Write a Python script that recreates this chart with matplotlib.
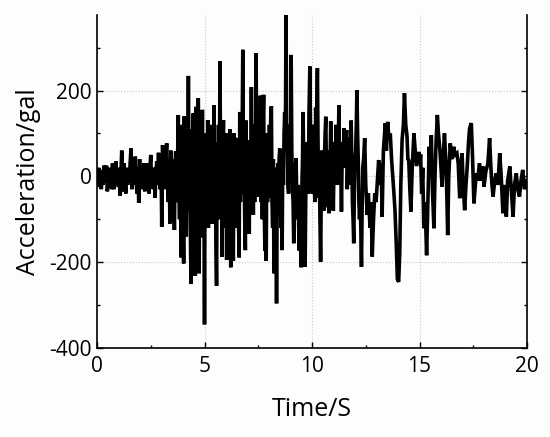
import numpy as np
import matplotlib.pyplot as plt
from matplotlib.ticker import MultipleLocator

# %% record (time in s, acceleration in gal)
# quiet start, 0 - 3.6 s
t_early = [0.0, 0.04, 0.08, 0.12, 0.16, 0.2, 0.24, 0.28, 0.32, 0.36, 0.4, 0.44, 0.48,
           0.52, 0.56, 0.6, 0.64, 0.68, 0.72, 0.76, 0.8, 0.84, 0.88, 0.92, 0.96, 1.0,
           1.04, 1.08, 1.12, 1.15, 1.18, 1.22, 1.26, 1.3, 1.34, 1.38, 1.42, 1.46, 1.5,
           1.54, 1.58, 1.62, 1.66, 1.7, 1.74, 1.78, 1.82, 1.86, 1.9, 1.94, 1.98, 2.02,
           2.06, 2.1, 2.14, 2.18, 2.22, 2.26, 2.3, 2.34, 2.38, 2.42, 2.46, 2.5, 2.54,
           2.58, 2.62, 2.66, 2.7, 2.74, 2.78, 2.82, 2.86, 2.9, 2.94, 2.98, 3.01, 3.05,
           3.09, 3.12, 3.16, 3.2, 3.24, 3.28, 3.32, 3.36, 3.39, 3.43, 3.47, 3.51, 3.55]
a_early = [10, -15, 20, -25, 15, -30, 10, -20, 25, -15, 5, 25, -35,
           -10, 20, -25, 5, -30, 30, -10, -30, 20, 35, -20, 10, -25,
           20, -45, 20, 60, -10, -35, 30, -15, -40, 20, -20, 15, -15,
           30, 65, -30, 10, 25, -20, 46, -10, -40, 20, -62, 40, -10,
           -30, 15, -20, 30, -35, 10, 30, -10, 20, -40, 20, 50, -20,
           10, -30, 20, -50, 10, 35, -20, 55, -10, -30, 30, -118, 73,
           -20, 30, -30, 40, 77, -20, -60, 30, -110, 60, -20, 40, -30]

# strong shaking, 3.6 - 12.45 s
t_mid = [3.6, 3.63, 3.66, 3.69, 3.72, 3.75, 3.78, 3.81, 3.84, 3.87, 3.9, 3.92, 3.95,
         3.97, 4.0, 4.03, 4.06, 4.09, 4.12, 4.15, 4.18, 4.21, 4.25, 4.28, 4.31, 4.34,
         4.37, 4.4, 4.43, 4.46, 4.48, 4.51, 4.54, 4.57, 4.6, 4.63, 4.66, 4.69, 4.71,
         4.75, 4.78, 4.81, 4.84, 4.87, 4.9, 4.93, 4.96, 5.0, 5.03, 5.06, 5.09, 5.12,
         5.15, 5.18, 5.21, 5.24, 5.27, 5.3, 5.33, 5.36, 5.39, 5.42, 5.44, 5.47, 5.5,
         5.53, 5.56, 5.59, 5.62, 5.65, 5.68, 5.72, 5.75, 5.78, 5.82, 5.85, 5.88, 5.91,
         5.94, 5.97, 6.0, 6.03, 6.06, 6.09, 6.12, 6.15, 6.18, 6.22, 6.25, 6.28, 6.31,
         6.34, 6.37, 6.4, 6.43, 6.46, 6.49, 6.52, 6.55, 6.58, 6.61, 6.64, 6.67, 6.7,
         6.73, 6.78, 6.81, 6.84, 6.87, 6.9, 6.93, 6.96, 6.99, 7.02, 7.05, 7.08, 7.11,
         7.15, 7.18, 7.21, 7.24, 7.27, 7.3, 7.33, 7.37, 7.4, 7.43, 7.46, 7.49, 7.52,
         7.55, 7.58, 7.6, 7.63, 7.66, 7.69, 7.72, 7.75, 7.78, 7.81, 7.84, 7.87, 7.9,
         7.93, 7.96, 7.99, 8.02, 8.05, 8.08, 8.11, 8.14, 8.17, 8.2, 8.23, 8.26, 8.29,
         8.32, 8.35, 8.38, 8.41, 8.44, 8.47, 8.5, 8.53, 8.56, 8.59, 8.61, 8.64, 8.67,
         8.7, 8.73, 8.76, 8.79, 8.82, 8.85, 8.88, 8.91, 8.94, 8.97, 9.0, 9.03, 9.06,
         9.09, 9.12, 9.15, 9.18, 9.21, 9.24, 9.26, 9.29, 9.32, 9.35, 9.38, 9.41, 9.44,
         9.47, 9.5, 9.53, 9.56, 9.58, 9.61, 9.64, 9.68, 9.71, 9.74, 9.77, 9.8, 9.83,
         9.86, 9.9, 9.93, 9.96, 9.99, 10.02, 10.05, 10.08, 10.11, 10.14, 10.17, 10.2,
         10.25, 10.28, 10.31, 10.34, 10.37, 10.4, 10.43, 10.46, 10.49, 10.52, 10.55,
         10.58, 10.61, 10.64, 10.67, 10.7, 10.73, 10.76, 10.79, 10.82, 10.85, 10.87,
         10.9, 10.93, 10.96, 10.99, 11.02, 11.05, 11.08, 11.11, 11.14, 11.17, 11.2,
         11.22, 11.25, 11.28, 11.31, 11.34, 11.37, 11.4, 11.43, 11.46, 11.49, 11.52,
         11.55, 11.58, 11.61, 11.64, 11.67, 11.7, 11.73, 11.76, 11.79, 11.82, 11.85,
         11.88, 11.91, 11.94, 11.97, 12.0, 12.03, 12.06, 12.09, 12.12, 12.15, 12.18,
         12.21, 12.24, 12.27, 12.3, 12.33, 12.36, 12.4, 12.45]
a_mid = [-125, 20, 58, -60, -40, 60, 143, -30, -100, 40, -60, -189, 30,
         120, -60, -203, 140, -50, 90, -140, 60, -80, 234, -40, 110, -120,
         -251, 60, -90, 120, 147, -100, 50, -232, 162, -80, 100, -120, 182,
         -226, 60, -100, 120, -142, 155, -60, 90, -345, 60, -120, 100, -80,
         131, -120, 60, -100, 100, -79, 120, -110, 80, -60, 166, -80, 60,
         -150, -255, 80, -60, 120, -100, 268, -40, 80, -188, 60, 131, -87,
         80, -120, 100, -195, 60, -134, 90, -60, 110, -212, 40, 80, -120,
         -197, 100, -60, 90, -80, 88, -120, 60, -100, -189, 150, -60, 100,
         -40, 295, -40, 80, -100, -172, 130, -60, 80, -100, 60, -134, 84,
         -40, 208, -60, 100, -90, 120, -60, 80, 287, -20, -48, 80, -40,
         120, 20, 188, -60, 80, -100, 120, 190, -80, -173, 40, -197, 100,
         -60, 60, -50, 120, -40, 140, 163, -60, -120, 40, -226, 20, -100,
         -60, -296, -50, 30, -60, 40, 65, -60, -120, -40, -172, 50, -20,
         100, 150, 60, 380, 120, 100, -20, -40, 60, 120, 50, 283, 60,
         -30, -60, -156, -20, 30, -40, 42, -60, -100, -20, -120, -173, -60,
         -80, -212, -20, 40, 150, 60, -60, -211, -40, 80, -40, 60, -40,
         150, 256, 100, 60, -20, -40, 60, 120, -30, -60, 160, 60,
         252, 80, -50, 20, -100, -199, -40, 60, -20, -40, -80,
         40, 100, 139, 20, 60, -72, 20, -86, 40, 60, 128,
         20, -40, 40, -80, 20, 80, -20, 120, -20, 40, 100,
         60, 166, 40, -20, 20, -82, 40, 80, 20, 112, 40,
         20, 80, 108, -30, 40, 90, 20, -20, 60, 130, 40,
         -60, -100, -156, -40, 40, 60, 120, 201, 100, 40, -60,
         -100, -60, -120, -211, -80, 20, 40, 89]

# decay, 12.5 - 20 s
t_late = [12.5, 12.57, 12.62, 12.7, 12.75, 12.8, 12.86, 12.92, 12.98, 13.04, 13.1,
          13.16, 13.22, 13.26, 13.32, 13.41, 13.46, 13.52, 13.57, 13.64, 13.7, 13.8,
          13.86, 13.92, 13.97, 14.03, 14.08, 14.13, 14.19, 14.25, 14.3, 14.36, 14.42,
          14.46, 14.5, 14.55, 14.6, 14.66, 14.74, 14.8, 14.86, 14.92, 14.97, 15.02,
          15.05, 15.1, 15.15, 15.2, 15.26, 15.33, 15.38, 15.45, 15.5, 15.55, 15.6,
          15.67, 15.72, 15.77, 15.83, 15.88, 15.95, 16.0, 16.05, 16.1, 16.16, 16.22,
          16.26, 16.31, 16.36, 16.43, 16.5, 16.59, 16.65, 16.74, 16.8, 16.87, 16.92,
          16.98, 17.03, 17.1, 17.16, 17.22, 17.28, 17.33, 17.41, 17.47, 17.53, 17.58,
          17.64, 17.7, 17.79, 17.85, 17.95, 18.0, 18.08, 18.18, 18.26, 18.32, 18.37,
          18.42, 18.5, 18.57, 18.65, 18.73, 18.8, 18.88, 18.95, 19.04, 19.1, 19.2,
          19.27, 19.35, 19.42, 19.5, 19.57, 19.65, 19.72, 19.8, 19.88, 19.96, 20.0]
a_late = [-20, -90, -40, -120, -60, -187, -100, -40, -60, -10, 38,
          -20, 30, -94, 60, 124, 60, 127, 90, 100, 40, -32,
          -80, -160, -240, -246, -180, -20, 85, 120, 194, 120, 93,
          40, 37, -30, -82, 20, 100, 60, 24, 40, 57, 30,
          51, -40, 20, -121, -60, -184, -80, 69, 20, 96, -30,
          -121, 0, 80, 143, 100, 61, 20, -24, 40, 100, 40,
          -20, -137, 0, 77, 40, 69, 50, 54, 30, -51, 20,
          54, -20, -79, -20, 23, 80, 112, 124, 40, -63, -30,
          7, -10, 30, -10, 23, -24, 10, 30, 89, 20, -20,
          -47, -10, 7, -20, 54, 0, -86, -20, -94, -10, 23,
          -30, -94, -20, 7, -30, -47, -10, 15, -30, -16, -20]

t = t_early + t_mid + t_late
acc = a_early + a_mid + a_late

xticks = [0, 5, 10, 15, 20]
yticks = [-400, -200, 0, 200]

# %% plot
plt.rcParams['font.family'] = ['Open Sans', 'DejaVu Sans']
plt.rcParams['axes.unicode_minus'] = False

fig1, ax1 = plt.subplots(figsize=(5.5, 4.37), dpi=100)
fig1.patch.set_facecolor('#fdfdfb')
ax1.set_facecolor('#fdfdfb')
ax1.set_position([0.1764, 0.2037, 0.7818, 0.762])

ax1.plot(t, acc, color='black', lw=2.6, solid_joinstyle='miter')

ax1.set_xlim(0, 20)
ax1.set_ylim(-400, 376)
ax1.set_xticks(xticks)
ax1.set_yticks(yticks)
ax1.xaxis.set_minor_locator(MultipleLocator(2.5))
ax1.yaxis.set_minor_locator(MultipleLocator(100))
ax1.tick_params(which='both', direction='in', top=False, right=True, labelsize=15)
ax1.tick_params(which='major', length=4, width=1)
ax1.tick_params(which='minor', length=2.5, width=1)
ax1.tick_params(axis='x', pad=6)
ax1.tick_params(axis='y', pad=4)
ax1.spines['top'].set_visible(False)
for s in ['left', 'right', 'bottom']:
    ax1.spines[s].set_linewidth(1.2)
ax1.grid(True, which='major', linestyle=':', color='#c8c8c8', lw=0.8)

ax1.set_xlabel('Time/S', fontsize=18, labelpad=14)
ax1.set_ylabel('Acceleration/gal', fontsize=18, labelpad=6)

fig1.savefig('out.png', dpi=100, facecolor=fig1.get_facecolor())
